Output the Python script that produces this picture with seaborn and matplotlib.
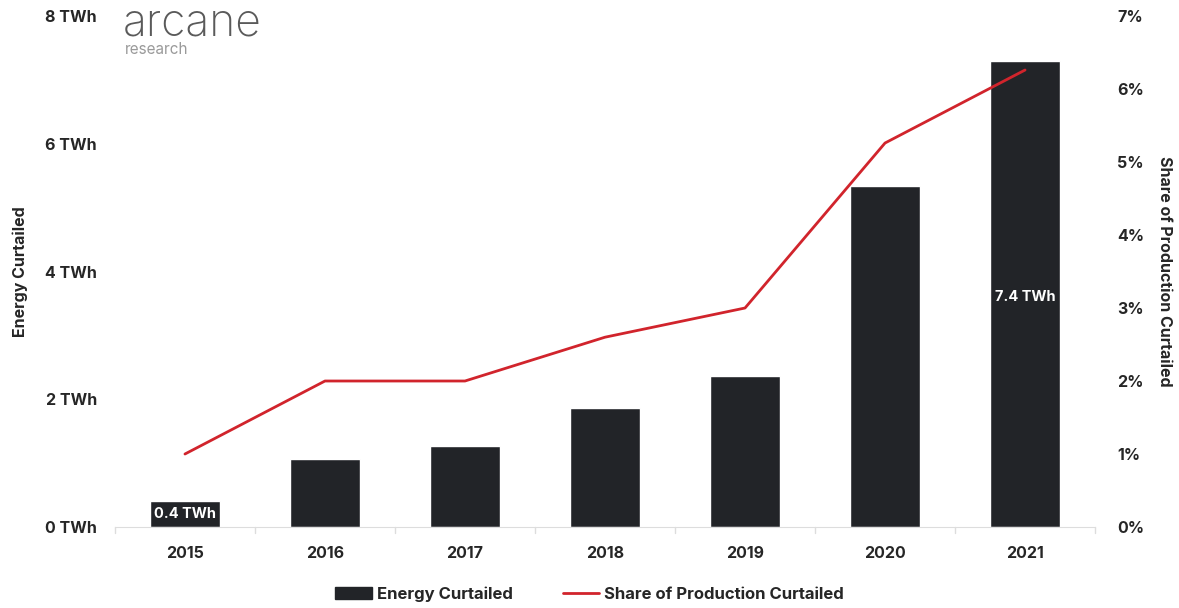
import matplotlib
matplotlib.use("Agg")
import matplotlib.pyplot as plt
import seaborn as sns
import pandas as pd
from matplotlib.patches import Patch
from matplotlib.lines import Line2D

# data
years = ["2015", "2016", "2017", "2018", "2019", "2020", "2021"]
energy_twh = [0.4, 1.06, 1.27, 1.86, 2.36, 5.34, 7.29]
share_pct = [1.0, 2.0, 2.0, 2.6, 3.0, 5.26, 6.26]
bar_labels = {0: "0.4 TWh", 6: "7.4 TWh"}

df = pd.DataFrame({"year": years, "energy": energy_twh, "share": share_pct})

sns.set_style("white")
plt.rcParams["font.family"] = ["Inter", "DejaVu Sans"]

bar_color = "#222428"
line_color = "#d1242c"

fig = plt.figure(figsize=(11.79, 6.08), dpi=100)
ax = fig.add_axes([0.0975, 0.1332, 0.8313, 0.8405])

sns.barplot(data=df, x="year", y="energy", color=bar_color, width=0.5,
            saturation=1, ax=ax)
ax.set_ylim(0, 8)
ax.set_xlim(-0.5, 6.5)
ax.set_yticks([0, 2, 4, 6, 8])
ax.set_yticklabels([f"{v} TWh" for v in [0, 2, 4, 6, 8]], fontsize=11.5, fontweight="bold")
ax.set_xticks(range(len(years)))
ax.set_xticklabels(years, fontsize=11.5, fontweight="bold")
ax.tick_params(axis="y", length=0, pad=13)
ax.tick_params(axis="x", length=0, pad=14)
# small ticks at category boundaries
for b in [i - 0.5 for i in range(len(years) + 1)]:
    ax.plot([b, b], [0, -0.1], color="#dddddd", lw=1, clip_on=False)
for s in ["top", "right", "left"]:
    ax.spines[s].set_visible(False)
ax.spines["bottom"].set_color("#dddddd")
ax.set_xlabel("")
ax.set_ylabel("Energy Curtailed", fontsize=11.5, fontweight="bold")
ax.yaxis.set_label_coords(-0.089, 0.5)

for i, txt in bar_labels.items():
    y = energy_twh[i] / 2 if i == 0 else 3.6
    ax.text(i, y, txt, color="white", ha="center", va="center",
            fontsize=10.5, fontweight="bold")

ax2 = ax.twinx()
sns.lineplot(x=list(range(len(years))), y=share_pct, color=line_color, lw=2, ax=ax2)
ax2.set_ylim(0, 7)
ax2.set_yticks(range(8))
ax2.set_yticklabels([f"{v}%" for v in range(8)], fontsize=11.5, fontweight="bold")
ax2.tick_params(axis="y", length=0, pad=16)
for s in ["top", "right", "left", "bottom"]:
    ax2.spines[s].set_visible(False)
ax2.set_ylabel("Share of Production Curtailed", fontsize=11.5, fontweight="bold",
               rotation=270, va="center")
ax2.yaxis.set_label_coords(1.071, 0.5)

handles = [Patch(color=bar_color), Line2D([0], [0], color=line_color, lw=2)]
fig.legend(handles, ["Energy Curtailed", "Share of Production Curtailed"],
           loc="center", bbox_to_anchor=(0.5, 0.023), ncol=2, frameon=False,
           prop={"size": 12, "weight": "bold"}, handlelength=2.2,
           handletextpad=0.3, columnspacing=3.0)

# logo
fig.text(123 / 1179, 1 - 23 / 608, "arcane", fontsize=32, color="#5a5a5a",
         va="center", ha="left", fontweight="light")
fig.text(125 / 1179, 1 - 50 / 608, "research", fontsize=11, color="#9a9a9a",
         va="center", ha="left")

fig.savefig("out.png", dpi=100)
